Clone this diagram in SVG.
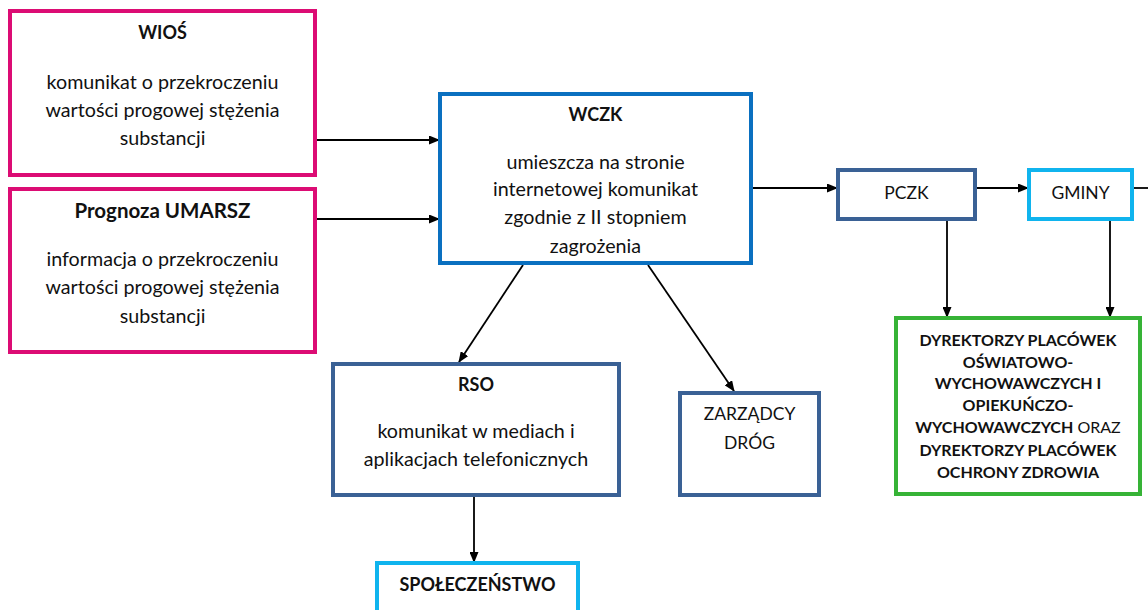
<svg xmlns="http://www.w3.org/2000/svg" width="1148" height="610" viewBox="0 0 1148 610">
<defs>
<marker id="ah" markerWidth="11" markerHeight="9" refX="10" refY="4.5" orient="auto" markerUnits="userSpaceOnUse">
<path d="M0,0 L11,4.5 L0,9 z" fill="#000"/>
</marker>
<style>
.box{fill:#fff;stroke-width:4}
.mag{stroke:#DC0C74}
.blue{stroke:#0A70C0}
.dk{stroke:#3A6195}
.lt{stroke:#10B4EE}
.grn{stroke:#36B336}
text{font-family:Lato,"Open Sans","Liberation Sans",sans-serif;fill:#111;text-anchor:middle}
.t{font-size:19.7px}
.u{font-size:17.5px}
.b{font-size:18px;font-weight:bold}
.g{font-size:16px;font-weight:bold}
.c{stroke:#000;stroke-width:1.8;fill:none;marker-end:url(#ah)}
</style>
</defs>
<rect width="1148" height="610" fill="#fff"/>
<g id="connectors">
<path class="c" d="M317 140 H439"/>
<path class="c" d="M317 219 H439"/>
<path class="c" d="M753 188 H837"/>
<path class="c" d="M977 188 H1028"/>
<path d="M1134 188 H1148" stroke="#000" stroke-width="1.8"/>
<path class="c" d="M947 221 V317"/>
<path class="c" d="M1110 221 V317"/>
<path class="c" d="M523 265 L459 362"/>
<path class="c" d="M648 265 L734 391"/>
<path class="c" d="M474 497 V562"/>
</g>
<g id="wios">
<rect class="box mag" x="10" y="11" width="305" height="164"/>
<text class="b" x="162.5" y="39" font-size="19px">WIOŚ</text>
<text class="t" x="162.5" y="89">komunikat o przekroczeniu</text>
<text class="t" x="162.5" y="117">wartości progowej stężenia</text>
<text class="t" x="162.5" y="145">substancji</text>
</g>
<g id="prognoza">
<rect class="box mag" x="10" y="189" width="305" height="163"/>
<text class="b" x="162.5" y="218" style="font-size:20.5px">Prognoza UMARSZ</text>
<text class="t" x="162.5" y="266">informacja o przekroczeniu</text>
<text class="t" x="162.5" y="294">wartości progowej stężenia</text>
<text class="t" x="162.5" y="323">substancji</text>
</g>
<g id="wczk">
<rect class="box blue" x="440" y="94" width="311" height="169"/>
<text class="b" x="595.5" y="121">WCZK</text>
<text class="t" x="595.5" y="169">umieszcza na stronie</text>
<text class="t" x="595.5" y="196">internetowej komunikat</text>
<text class="t" x="595.5" y="224">zgodnie z II stopniem</text>
<text class="t" x="595.5" y="253">zagrożenia</text>
</g>
<g id="pczk">
<rect class="box dk" x="838" y="170" width="137" height="49"/>
<text class="u" x="906.5" y="199">PCZK</text>
</g>
<g id="gminy">
<rect class="box lt" x="1029" y="170" width="103" height="49"/>
<text class="u" x="1080.5" y="199">GMINY</text>
</g>
<g id="dyrektorzy">
<rect class="box grn" x="896" y="318" width="244" height="176"/>
<text class="g" x="1018" y="346">DYREKTORZY PLACÓWEK</text>
<text class="g" x="1018" y="368">OŚWIATOWO-</text>
<text class="g" x="1018" y="389">WYCHOWAWCZYCH I</text>
<text class="g" x="1018" y="411">OPIEKUŃCZO-</text>
<text class="g" x="1018" y="433">WYCHOWAWCZYCH<tspan font-weight="normal"> ORAZ</tspan></text>
<text class="g" x="1018" y="456">DYREKTORZY PLACÓWEK</text>
<text class="g" x="1018" y="478">OCHRONY ZDROWIA</text>
</g>
<g id="rso">
<rect class="box dk" x="333" y="364" width="286" height="131"/>
<text class="b" x="476" y="391">RSO</text>
<text class="t" x="476" y="438">komunikat w mediach i</text>
<text class="t" x="476" y="466">aplikacjach telefonicznych</text>
</g>
<g id="zarzadcy">
<rect class="box dk" x="680" y="393" width="139" height="102"/>
<text class="u" x="749.5" y="420">ZARZĄDCY</text>
<text class="u" x="749.5" y="449">DRÓG</text>
</g>
<g id="spoleczenstwo">
<rect class="box lt" x="377" y="563" width="201" height="70"/>
<text class="b" x="477.5" y="591">SPOŁECZEŃSTWO</text>
</g>
</svg>
